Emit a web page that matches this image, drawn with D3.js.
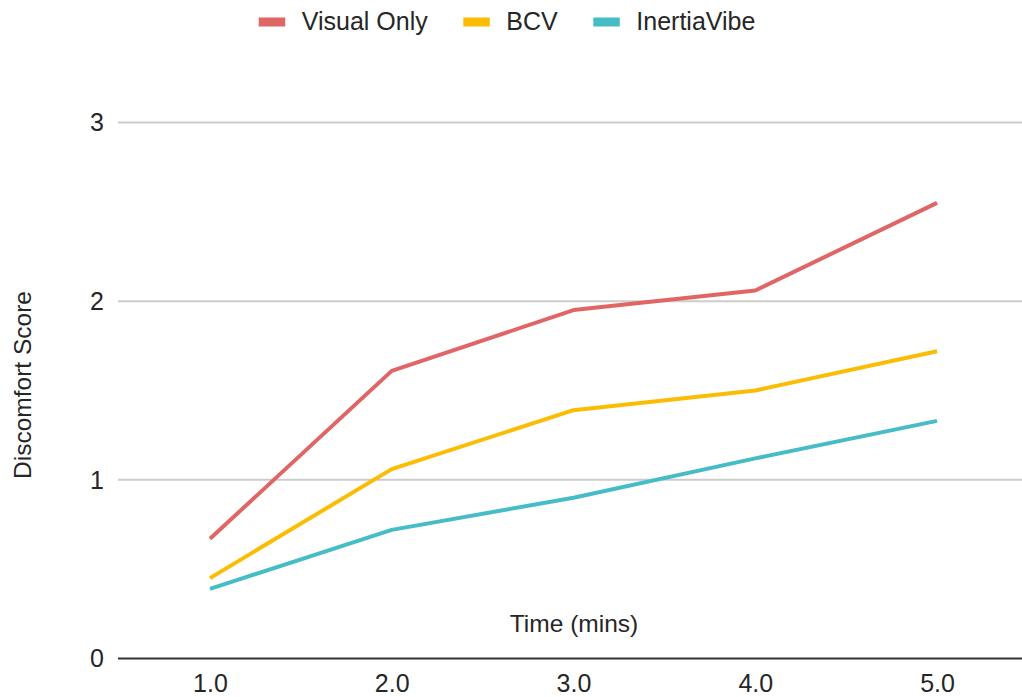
<!DOCTYPE html>
<html>
<head>
<meta charset="utf-8">
<script src="https://cdn.jsdelivr.net/npm/d3@7"></script>
<style>
  html, body { margin: 0; padding: 0; background: #fff; }
  svg { display: block; font-family: "Liberation Sans", Arial, sans-serif; }
</style>
</head>
<body>
<svg id="chart" width="1022" height="697"></svg>
<script>
// Time points (minutes) and discomfort scores per condition
const times = [1.0, 2.0, 3.0, 4.0, 5.0];
const visualOnly = [0.67, 1.61, 1.95, 2.06, 2.55];
const bcv = [0.45, 1.06, 1.39, 1.50, 1.72];
const inertiaVibe = [0.39, 0.72, 0.90, 1.12, 1.33];
const seriesNames = ["Visual Only", "BCV", "InertiaVibe"];
const seriesColors = ["#e06666", "#fbbc04", "#46bdc6"];
const yTicks = [0, 1, 2, 3];

const series = [visualOnly, bcv, inertiaVibe].map((vals, i) => ({
  name: seriesNames[i],
  color: seriesColors[i],
  points: times.map((t, j) => ({ t, v: vals[j] }))
}));

const svg = d3.select("#chart");
const W = 1022;
const left = 118, right = W;
const textColor = "#262626";

const x = d3.scaleLinear().domain([0.494, 5.374]).range([left, 1005]);
const y = d3.scaleLinear().domain([0, 3]).range([658.5, 122.5]);

// Horizontal gridlines
svg.append("g")
  .selectAll("line")
  .data(yTicks.filter(d => d !== 0))
  .join("line")
  .attr("x1", left).attr("x2", right)
  .attr("y1", d => y(d)).attr("y2", d => y(d))
  .attr("stroke", "#cccccc").attr("stroke-width", 2);

// Y tick labels
svg.append("g")
  .selectAll("text")
  .data(yTicks)
  .join("text")
  .attr("x", 104).attr("y", d => y(d))
  .attr("dy", "0.35em")
  .attr("text-anchor", "end")
  .attr("font-size", 25)
  .attr("fill", textColor)
  .text(d => d);

// Baseline (x axis)
svg.append("line")
  .attr("x1", left).attr("x2", right)
  .attr("y1", y(0)).attr("y2", y(0))
  .attr("stroke", "#333").attr("stroke-width", 2);

// X tick labels
const xAxis = d3.axisBottom(x).tickValues(times).tickFormat(d3.format(".1f")).tickSize(0).tickPadding(0);
const gx = svg.append("g").attr("transform", `translate(0, 692)`).call(xAxis);
gx.select(".domain").remove();
gx.selectAll("text")
  .attr("font-size", 25)
  .attr("font-family", "Liberation Sans, Arial, sans-serif")
  .attr("fill", textColor)
  .attr("dy", 0)
  .attr("y", 0);

// Axis titles
svg.append("text")
  .attr("x", 574).attr("y", 632)
  .attr("text-anchor", "middle")
  .attr("font-size", 24.5)
  .attr("fill", textColor)
  .text("Time (mins)");

svg.append("text")
  .attr("transform", "translate(31, 385) rotate(-90)")
  .attr("text-anchor", "middle")
  .attr("font-size", 24.5)
  .attr("fill", textColor)
  .text("Discomfort Score");

// Lines
const line = d3.line().x(d => x(d.t)).y(d => y(d.v));
svg.append("g")
  .selectAll("path")
  .data(series)
  .join("path")
  .attr("d", d => line(d.points))
  .attr("fill", "none")
  .attr("stroke", d => d.color)
  .attr("stroke-width", 4)
  .attr("stroke-linejoin", "round");

// Legend
const legendX = [258.7, 463.3, 593.3];
const legend = svg.append("g")
  .selectAll("g")
  .data(series)
  .join("g")
  .attr("transform", (d, i) => `translate(${legendX[i]}, 0)`);
legend.append("rect")
  .attr("x", 0).attr("y", 17.5)
  .attr("width", 26.5).attr("height", 9)
  .attr("fill", d => d.color);
legend.append("text")
  .attr("x", 43).attr("y", 29.5)
  .attr("font-size", 25)
  .attr("fill", textColor)
  .text(d => d.name);
</script>
</body>
</html>
